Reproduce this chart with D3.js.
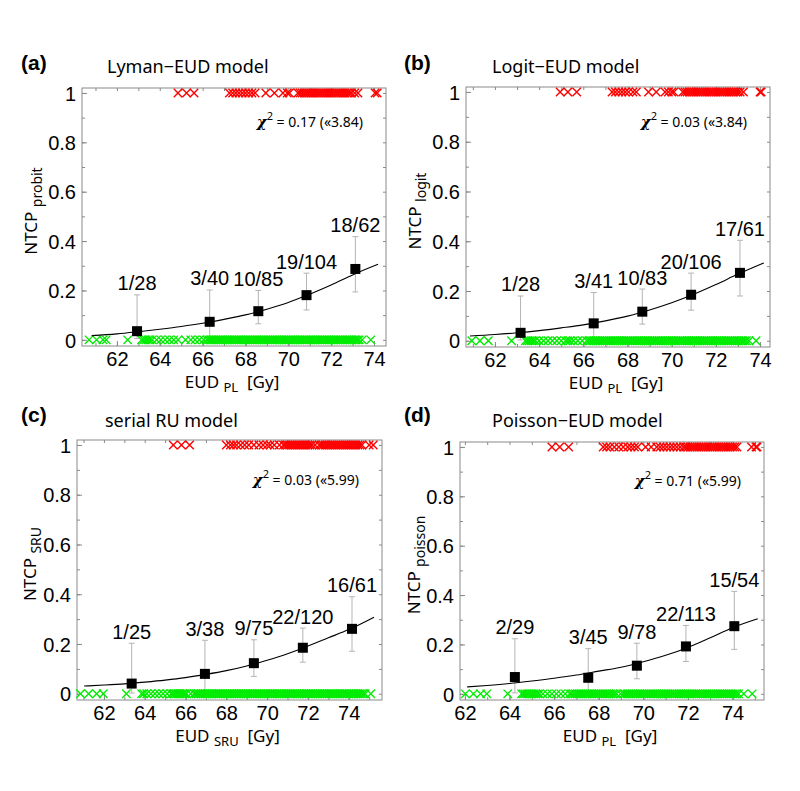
<!DOCTYPE html>
<html><head><meta charset="utf-8">
<script src="https://cdn.jsdelivr.net/npm/d3@7"></script>
<style>body{margin:0;background:#fff;} svg{display:block}</style>
</head><body><svg id="chart" width="800" height="791"></svg>
<script>
// ---------- data ----------
const xTickValues = [62, 64, 66, 68, 70, 72, 74];
const xMinorTicks = [61, 62, 63, 64, 65, 66, 67, 68, 69, 70, 71, 72, 73, 74, 75];
const yTickValues = [0, 0.2, 0.4, 0.6, 0.8, 1];
const yMinorTicks = [0, 0.1, 0.2, 0.3, 0.4, 0.5, 0.6, 0.7, 0.8, 0.9, 1];
const panelTags = ["(a)", "(b)", "(c)", "(d)"];
const modelTitles = ["Lyman\u2212EUD model", "Logit\u2212EUD model", "serial RU model", "Poisson\u2212EUD model"];
const yLabelSubs = ["probit", "logit", "SRU", "poisson"];
const xLabelSubs = ["PL", "PL", "SRU", "PL"];
const chiValues = ["0.17", "0.03", "0.03", "0.71"];
const chiCritical = ["3.84", "3.84", "5.99", "5.99"];

// (a) Lyman-EUD
const binDoseA = [62.94, 66.33, 68.6, 70.85, 73.13];
const binNtcpA = [0.035, 0.073, 0.116, 0.181, 0.287];
const errLowA = [0.005, 0.01, 0.065, 0.121, 0.194];
const errHighA = [0.182, 0.202, 0.2, 0.27, 0.418];
const binLabelsA = ["1/28", "3/40", "10/85", "19/104", "18/62"];
const fitDoseA = [60.82, 62, 63, 64, 65, 66, 67, 68, 69, 70, 71, 72, 73, 74.19];
const fitNtcpA = [0.017, 0.024, 0.033, 0.043, 0.054, 0.067, 0.083, 0.101, 0.124, 0.151, 0.185, 0.222, 0.263, 0.306];
const eventDoseA = [64.85, 65.25, 65.6, 67.25, 67.4, 67.55, 67.7, 67.85, 68.0, 68.15, 68.3, 68.45,
  68.95, 69.35, 69.75, 69.95, 70.05, 70.45, 70.55, 70.65, 70.75, 70.85, 70.95, 71.05, 71.15, 71.25,
  71.35, 71.45, 71.55, 71.65, 71.75, 71.85, 71.95, 72.05, 72.15, 72.25, 72.35, 72.45, 72.55, 72.65,
  72.75, 72.85, 72.95, 73.1, 73.25, 74.05, 74.15];
const noEventDoseA = [60.7, 61.05, 61.35, 61.5, 62.5, 63.15, 63.25, 63.35, 63.45, 63.55, 63.65,
  63.85, 64.05, 64.25, 64.45, 64.65, 64.85, 65.2, 65.45, 65.65, 65.85, 66.05,
  66.2, 66.28, 66.37, 66.45, 66.52, 66.61, 66.7, 66.78, 66.86, 66.95, 67.03, 67.12, 67.2, 67.28, 67.37,
  67.45, 67.53, 67.62, 67.7, 67.79, 67.87, 67.95, 68.04, 68.12, 68.2, 68.29, 68.37, 68.46, 68.54, 68.62,
  68.71, 68.79, 68.87, 68.96, 69.04, 69.13, 69.21, 69.29, 69.38, 69.46, 69.55, 69.63, 69.71, 69.8, 69.88,
  69.96, 70.05, 70.13, 70.22, 70.3, 70.38, 70.47, 70.55, 70.64, 70.72, 70.8, 70.89, 70.97, 71.05, 71.14,
  71.22, 71.31, 71.39, 71.47, 71.56, 71.64, 71.73, 71.81, 71.89, 71.98, 72.06, 72.14, 72.23, 72.31, 72.4,
  72.48, 72.56, 72.65, 72.73, 72.82, 72.9, 72.98, 73.07, 73.15, 73.23, 73.31, 73.45, 73.85];

// (b) Logit-EUD
const binDoseB = [63.16, 66.47, 68.67, 70.88, 73.09];
const binNtcpB = [0.032, 0.07, 0.117, 0.185, 0.273];
const errLowB = [0.003, 0.0, 0.067, 0.123, 0.18];
const errHighB = [0.18, 0.194, 0.208, 0.272, 0.404];
const binLabelsB = ["1/28", "3/41", "10/83", "20/106", "17/61"];
const fitDoseB = [60.87, 62, 63, 64, 65, 66, 67, 68, 69, 70, 71, 72, 73, 74.17];
const fitNtcpB = [0.019, 0.025, 0.032, 0.041, 0.052, 0.064, 0.08, 0.099, 0.124, 0.153, 0.187, 0.226, 0.268, 0.313];
const eventDoseB = [64.95, 65.3, 65.7, 67.3, 67.45, 67.6, 67.75, 67.9, 68.05, 68.25, 68.4, 68.95, 69.3,
  69.7, 69.85, 70.0, 70.1, 70.5, 70.6, 70.7, 70.8, 70.9, 71.0, 71.1, 71.2, 71.3, 71.4, 71.5, 71.6, 71.7,
  71.8, 71.9, 72.0, 72.1, 72.2, 72.3, 72.4, 72.5, 72.6, 72.7, 72.8, 72.9, 73.0, 73.1, 73.25, 74.0, 74.05];
const noEventDoseB = [60.95, 61.32, 61.7, 62.75, 63.38, 63.47, 63.56, 63.65, 63.74, 63.83,
  64.0, 64.2, 64.4, 64.6, 64.8, 65.0, 65.2, 65.3, 65.4, 65.55, 65.75, 65.95, 66.15,
  66.25, 66.33, 66.42, 66.5, 66.58, 66.67, 66.75, 66.84, 66.92, 67.0, 67.09, 67.17, 67.26, 67.34, 67.42,
  67.51, 67.59, 67.67, 67.76, 67.84, 67.93, 68.01, 68.09, 68.18, 68.26, 68.35, 68.43, 68.51, 68.6, 68.68,
  68.77, 68.85, 68.93, 69.02, 69.1, 69.19, 69.27, 69.35, 69.44, 69.52, 69.6, 69.69, 69.77, 69.86, 69.94,
  70.02, 70.11, 70.19, 70.28, 70.36, 70.44, 70.53, 70.61, 70.7, 70.78, 70.86, 70.95, 71.03, 71.11, 71.2,
  71.28, 71.37, 71.45, 71.53, 71.62, 71.7, 71.79, 71.87, 71.95, 72.04, 72.12, 72.2, 72.29, 72.37, 72.46,
  72.54, 72.62, 72.71, 72.79, 72.88, 72.96, 73.04, 73.13, 73.21, 73.3, 73.38, 73.5, 73.82];

// (c) serial RU
const binDoseC = [63.36, 66.95, 69.35, 71.75, 74.16];
const binNtcpC = [0.041, 0.08, 0.123, 0.185, 0.261];
const errLowC = [0.003, 0.005, 0.07, 0.127, 0.171];
const errHighC = [0.203, 0.215, 0.217, 0.264, 0.39];
const binLabelsC = ["1/25", "3/38", "9/75", "22/120", "16/61"];
const fitDoseC = [61.03, 62, 63, 64, 65, 66, 67, 68, 69, 70, 71, 72, 73, 74, 75.24];
const fitNtcpC = [0.031, 0.035, 0.04, 0.047, 0.055, 0.065, 0.078, 0.093, 0.112, 0.135, 0.161, 0.192, 0.225, 0.258, 0.308];
const eventDoseC = [65.4, 65.8, 66.2, 68.0, 68.2, 68.35, 68.5, 68.7, 68.9, 69.1, 69.35, 69.6, 69.8, 70.0,
  70.15, 70.35, 70.6, 70.8, 70.9, 71.0, 71.1, 71.2, 71.3, 71.4, 71.5, 71.6, 71.7, 71.8, 71.9, 72.0, 72.1, 72.2,
  72.35, 72.55, 72.65, 72.75, 72.85, 72.95, 73.05, 73.15, 73.25, 73.35, 73.45, 73.55, 73.65, 73.75, 73.85,
  73.95, 74.05, 74.15, 74.25, 74.35, 74.45, 74.55, 74.65, 75.0, 75.2];
const noEventDoseC = [60.85, 61.25, 61.64, 61.97, 63.1, 63.85, 63.95, 64.1, 64.3, 64.5, 64.7, 64.9, 65.1, 65.3,
  65.38, 65.46, 65.55, 65.63, 65.72, 65.8, 65.88, 65.97, 66.05, 66.25,
  66.42, 66.51, 66.6, 66.69, 66.77, 66.86, 66.95, 67.04, 67.13, 67.22, 67.3, 67.39, 67.48, 67.57, 67.66,
  67.74, 67.83, 67.92, 68.01, 68.1, 68.19, 68.27, 68.36, 68.45, 68.54, 68.63, 68.71, 68.8, 68.89, 68.98,
  69.07, 69.16, 69.24, 69.33, 69.42, 69.51, 69.6, 69.68, 69.77, 69.86, 69.95, 70.04, 70.13, 70.21, 70.3,
  70.39, 70.48, 70.57, 70.65, 70.74, 70.83, 70.92, 71.01, 71.1, 71.18, 71.27, 71.36, 71.45, 71.54, 71.62,
  71.71, 71.8, 71.89, 71.98, 72.07, 72.15, 72.24, 72.33, 72.42, 72.51, 72.59, 72.68, 72.77, 72.86, 72.95,
  73.04, 73.12, 73.21, 73.3, 73.39, 73.48, 73.56, 73.65, 73.74, 73.83, 73.92, 74.01, 74.09, 74.18, 74.27,
  74.36, 74.45, 74.53, 74.62, 74.71, 74.8, 75.08];

// (d) Poisson-EUD
const binDoseD = [64.24, 67.53, 69.71, 71.91, 74.08];
const binNtcpD = [0.068, 0.065, 0.114, 0.192, 0.274];
const errLowD = [0.004, 0.008, 0.061, 0.131, 0.18];
const errHighD = [0.223, 0.183, 0.205, 0.277, 0.415];
const binLabelsD = ["2/29", "3/45", "9/78", "22/113", "15/54"];
const fitDoseD = [62.1, 63, 64, 65, 66, 67, 68, 69, 70, 71, 72, 73, 74, 75.13];
const fitNtcpD = [0.028, 0.034, 0.042, 0.052, 0.063, 0.076, 0.092, 0.108, 0.13, 0.156, 0.188, 0.227, 0.268, 0.304];
const eventDoseD = [65.9, 66.25, 66.65, 68.2, 68.35, 68.5, 68.7, 68.9, 69.1, 69.3, 69.45, 69.6, 69.75,
  70.1, 70.35, 70.6, 70.75, 70.9, 71.05, 71.2, 71.35, 71.5, 71.65, 71.8, 71.9, 72.0, 72.1, 72.2, 72.3,
  72.4, 72.5, 72.6, 72.7, 72.8, 72.9, 73.0, 73.1, 73.2, 73.3, 73.4, 73.5, 73.6, 73.7, 73.8, 73.9, 74.0,
  74.1, 74.2, 74.85, 75.05, 75.1];
const noEventDoseD = [62.02, 62.38, 62.7, 62.98, 63.92, 64.54, 64.62, 64.7, 64.78, 64.86, 64.94, 65.02,
  65.1, 65.18, 65.26, 65.34, 65.5, 65.7, 65.9, 66.1, 66.3, 66.5,
  66.7, 66.78, 66.87, 66.95, 67.03, 67.12, 67.2, 67.28, 67.37, 67.45, 67.53, 67.62, 67.7, 67.78, 67.87,
  67.95, 68.03, 68.12, 68.2, 68.28, 68.37, 68.45, 68.53, 68.62, 68.7, 68.8, 68.98, 69.1, 69.18, 69.27,
  69.35, 69.43, 69.52, 69.6, 69.68, 69.77, 69.85, 69.93, 70.02, 70.1, 70.18, 70.27, 70.35, 70.43, 70.52,
  70.6, 70.68, 70.77, 70.85, 70.93, 71.02, 71.1, 71.18, 71.27, 71.35, 71.43, 71.52, 71.6, 71.68, 71.77,
  71.85, 71.93, 72.02, 72.1, 72.18, 72.27, 72.35, 72.43, 72.52, 72.6, 72.68, 72.77, 72.85, 72.93, 73.02,
  73.1, 73.18, 73.27, 73.35, 73.43, 73.52, 73.6, 73.68, 73.77, 73.85, 73.93, 74.02, 74.1, 74.18, 74.27,
  74.5, 74.88];

// ---------- layout (positions/styles only) ----------
const layout = [
  {left: 82, right: 386, top: 88, bottom: 346, xDomain: [60.37, 74.56], tagX: 21, tagY: 70, titleX: 107, titleY: 73, chiDy: 39, ylabX: 37},
  {left: 466, right: 770, top: 87, bottom: 347, xDomain: [60.69, 74.45], tagX: 404, tagY: 70, titleX: 492, titleY: 73, chiDy: 40, ylabX: 421},
  {left: 77, right: 382, top: 440, bottom: 700, xDomain: [60.68, 75.63], tagX: 21, tagY: 422, titleX: 105, titleY: 427, chiDy: 45, ylabX: 36},
  {left: 460, right: 764, top: 442, bottom: 700, xDomain: [61.78, 75.41], tagX: 404, tagY: 422, titleX: 492, titleY: 427, chiDy: 44, ylabX: 420}
];
const yDomain = [-0.025, 1.02];

const panels = [
  {dose: binDoseA, ntcp: binNtcpA, lo: errLowA, hi: errHighA, labels: binLabelsA, fitX: fitDoseA, fitY: fitNtcpA, ev: eventDoseA, nev: noEventDoseA},
  {dose: binDoseB, ntcp: binNtcpB, lo: errLowB, hi: errHighB, labels: binLabelsB, fitX: fitDoseB, fitY: fitNtcpB, ev: eventDoseB, nev: noEventDoseB},
  {dose: binDoseC, ntcp: binNtcpC, lo: errLowC, hi: errHighC, labels: binLabelsC, fitX: fitDoseC, fitY: fitNtcpC, ev: eventDoseC, nev: noEventDoseC},
  {dose: binDoseD, ntcp: binNtcpD, lo: errLowD, hi: errHighD, labels: binLabelsD, fitX: fitDoseD, fitY: fitNtcpD, ev: eventDoseD, nev: noEventDoseD}
];

const svg = d3.select("#chart");
svg.append("rect").attr("width", 800).attr("height", 791).attr("fill", "#fff");

const SANS = "'Noto Sans', 'Open Sans', sans-serif";
const HELV = "'Liberation Sans', Arial, sans-serif";
const frameColor = "#8a8a8a";
const crossPath = "M-4.2,-4.2L4.2,4.2M-4.2,4.2L4.2,-4.2";

panels.forEach((p, i) => {
  const L = layout[i];
  const x = d3.scaleLinear().domain(L.xDomain).range([L.left, L.right]);
  const y = d3.scaleLinear().domain(yDomain).range([L.bottom, L.top]);
  const g = svg.append("g");

  // frame
  g.append("rect").attr("x", L.left).attr("y", L.top).attr("width", L.right - L.left).attr("height", L.bottom - L.top)
    .attr("fill", "none").attr("stroke", frameColor).attr("stroke-width", 1);

  // minor ticks (no labels)
  const minorStyle = sel => { sel.select(".domain").remove(); sel.selectAll("text").remove(); sel.selectAll("line").attr("stroke", frameColor); };
  const inX = xMinorTicks.filter(v => v > L.xDomain[0] && v < L.xDomain[1]);
  g.append("g").attr("transform", `translate(0,${L.bottom})`).call(d3.axisBottom(x).tickValues(inX).tickSize(-3)).call(minorStyle);
  g.append("g").attr("transform", `translate(0,${L.top})`).call(d3.axisTop(x).tickValues(inX).tickSize(-3)).call(minorStyle);
  g.append("g").attr("transform", `translate(${L.left},0)`).call(d3.axisLeft(y).tickValues(yMinorTicks).tickSize(-3)).call(minorStyle);
  g.append("g").attr("transform", `translate(${L.right},0)`).call(d3.axisRight(y).tickValues(yMinorTicks).tickSize(-3)).call(minorStyle);

  // labelled axes
  const xa = d3.axisBottom(x).tickValues(xTickValues).tickSize(-5).tickFormat(d => String(d));
  const gx = g.append("g").attr("transform", `translate(0,${L.bottom})`).call(xa);
  gx.select(".domain").remove();
  gx.selectAll("line").attr("stroke", frameColor);
  gx.selectAll("text").attr("y", 20).attr("dy", 0).attr("fill", "#000")
    .style("font-family", HELV).style("font-size", "20px");

  const ya = d3.axisLeft(y).tickValues(yTickValues).tickSize(-5).tickFormat(d => String(d));
  const gy = g.append("g").attr("transform", `translate(${L.left},0)`).call(ya);
  gy.select(".domain").remove();
  gy.selectAll("line").attr("stroke", frameColor);
  gy.selectAll("text").attr("x", -6).attr("dy", "0.36em").attr("fill", "#000")
    .style("font-family", HELV).style("font-size", "20px");

  // error bars
  const eb = g.append("g").attr("stroke", "#b4b4b4").attr("stroke-width", 1);
  p.dose.forEach((d, k) => {
    const cx = x(d);
    eb.append("line").attr("x1", cx).attr("x2", cx).attr("y1", y(p.lo[k])).attr("y2", y(p.hi[k]));
    eb.append("line").attr("x1", cx - 3).attr("x2", cx + 3).attr("y1", y(p.hi[k])).attr("y2", y(p.hi[k]));
    eb.append("line").attr("x1", cx - 3).attr("x2", cx + 3).attr("y1", y(p.lo[k])).attr("y2", y(p.lo[k]));
  });

  // no-event (green) crosses at 0
  g.append("g").selectAll("path").data(p.nev).join("path")
    .attr("d", crossPath).attr("transform", d => `translate(${x(d)},${y(0)})`)
    .attr("fill", "none").attr("stroke", "#00ec00").attr("stroke-width", 1.4);
  // event (red) crosses at 1
  g.append("g").selectAll("path").data(p.ev).join("path")
    .attr("d", crossPath).attr("transform", d => `translate(${x(d)},${y(1)})`)
    .attr("fill", "none").attr("stroke", "#ff0000").attr("stroke-width", 1.4);

  // fitted curve
  const line = d3.line().x(d => x(d[0])).y(d => y(d[1])).curve(d3.curveMonotoneX);
  g.append("path").datum(p.fitX.map((v, k) => [v, p.fitY[k]])).attr("d", line)
    .attr("fill", "none").attr("stroke", "#000").attr("stroke-width", 1.1);

  // squares
  g.append("g").selectAll("rect").data(p.dose).join("rect")
    .attr("x", d => x(d) - 5).attr("y", (d, k) => y(p.ntcp[k]) - 5).attr("width", 10).attr("height", 10)
    .attr("fill", "#000");

  // bin labels
  g.append("g").selectAll("text").data(p.labels).join("text")
    .attr("x", (d, k) => x(p.dose[k])).attr("y", (d, k) => y(p.hi[k]) - 4.5)
    .attr("text-anchor", "middle").style("font-family", HELV).style("font-size", "20px").attr("fill", "#000")
    .text(d => d);

  // panel tag
  svg.append("text").attr("x", L.tagX).attr("y", L.tagY).style("font-family", HELV).style("font-weight", "bold")
    .style("font-size", "21px").text(panelTags[i]);
  // title
  svg.append("text").attr("x", L.titleX).attr("y", L.titleY).style("font-family", SANS).style("font-size", "18px")
    .text(modelTitles[i]);

  // chi-square note
  const ct = svg.append("text").attr("x", L.right - 23).attr("y", L.top + L.chiDy).attr("text-anchor", "end")
    .style("font-family", SANS).style("font-size", "14px");
  ct.append("tspan").style("font-family", "'DejaVu Serif', serif").style("font-style", "italic").style("font-weight", "bold").style("font-size", "15px").text("\u03c7");
  ct.append("tspan").attr("dy", -7).style("font-size", "11px").text("2");
  ct.append("tspan").attr("dy", 7).text("\u00a0= " + chiValues[i] + " (\u00ab" + chiCritical[i] + ")");

  // x label
  const cxm = (L.left + L.right) / 2 - 2;
  const xl = svg.append("text").attr("x", cxm).attr("y", L.bottom + 42).attr("text-anchor", "middle")
    .style("font-family", SANS).style("font-size", "17px");
  xl.append("tspan").text("EUD\u00a0");
  xl.append("tspan").attr("dy", 4).style("font-size", "13px").text(xLabelSubs[i]);
  xl.append("tspan").attr("dy", -4).text("\u00a0\u00a0[Gy]");

  // y label
  const cym = (L.top + L.bottom) / 2 - 6;
  const yl = svg.append("text").attr("transform", `translate(${L.ylabX},${cym}) rotate(-90)`).attr("text-anchor", "middle")
    .style("font-family", SANS).style("font-size", "17px");
  yl.append("tspan").text("NTCP\u00a0");
  yl.append("tspan").attr("dy", 5).style("font-size", "14px").text(yLabelSubs[i]);
});
</script>
</body></html>
